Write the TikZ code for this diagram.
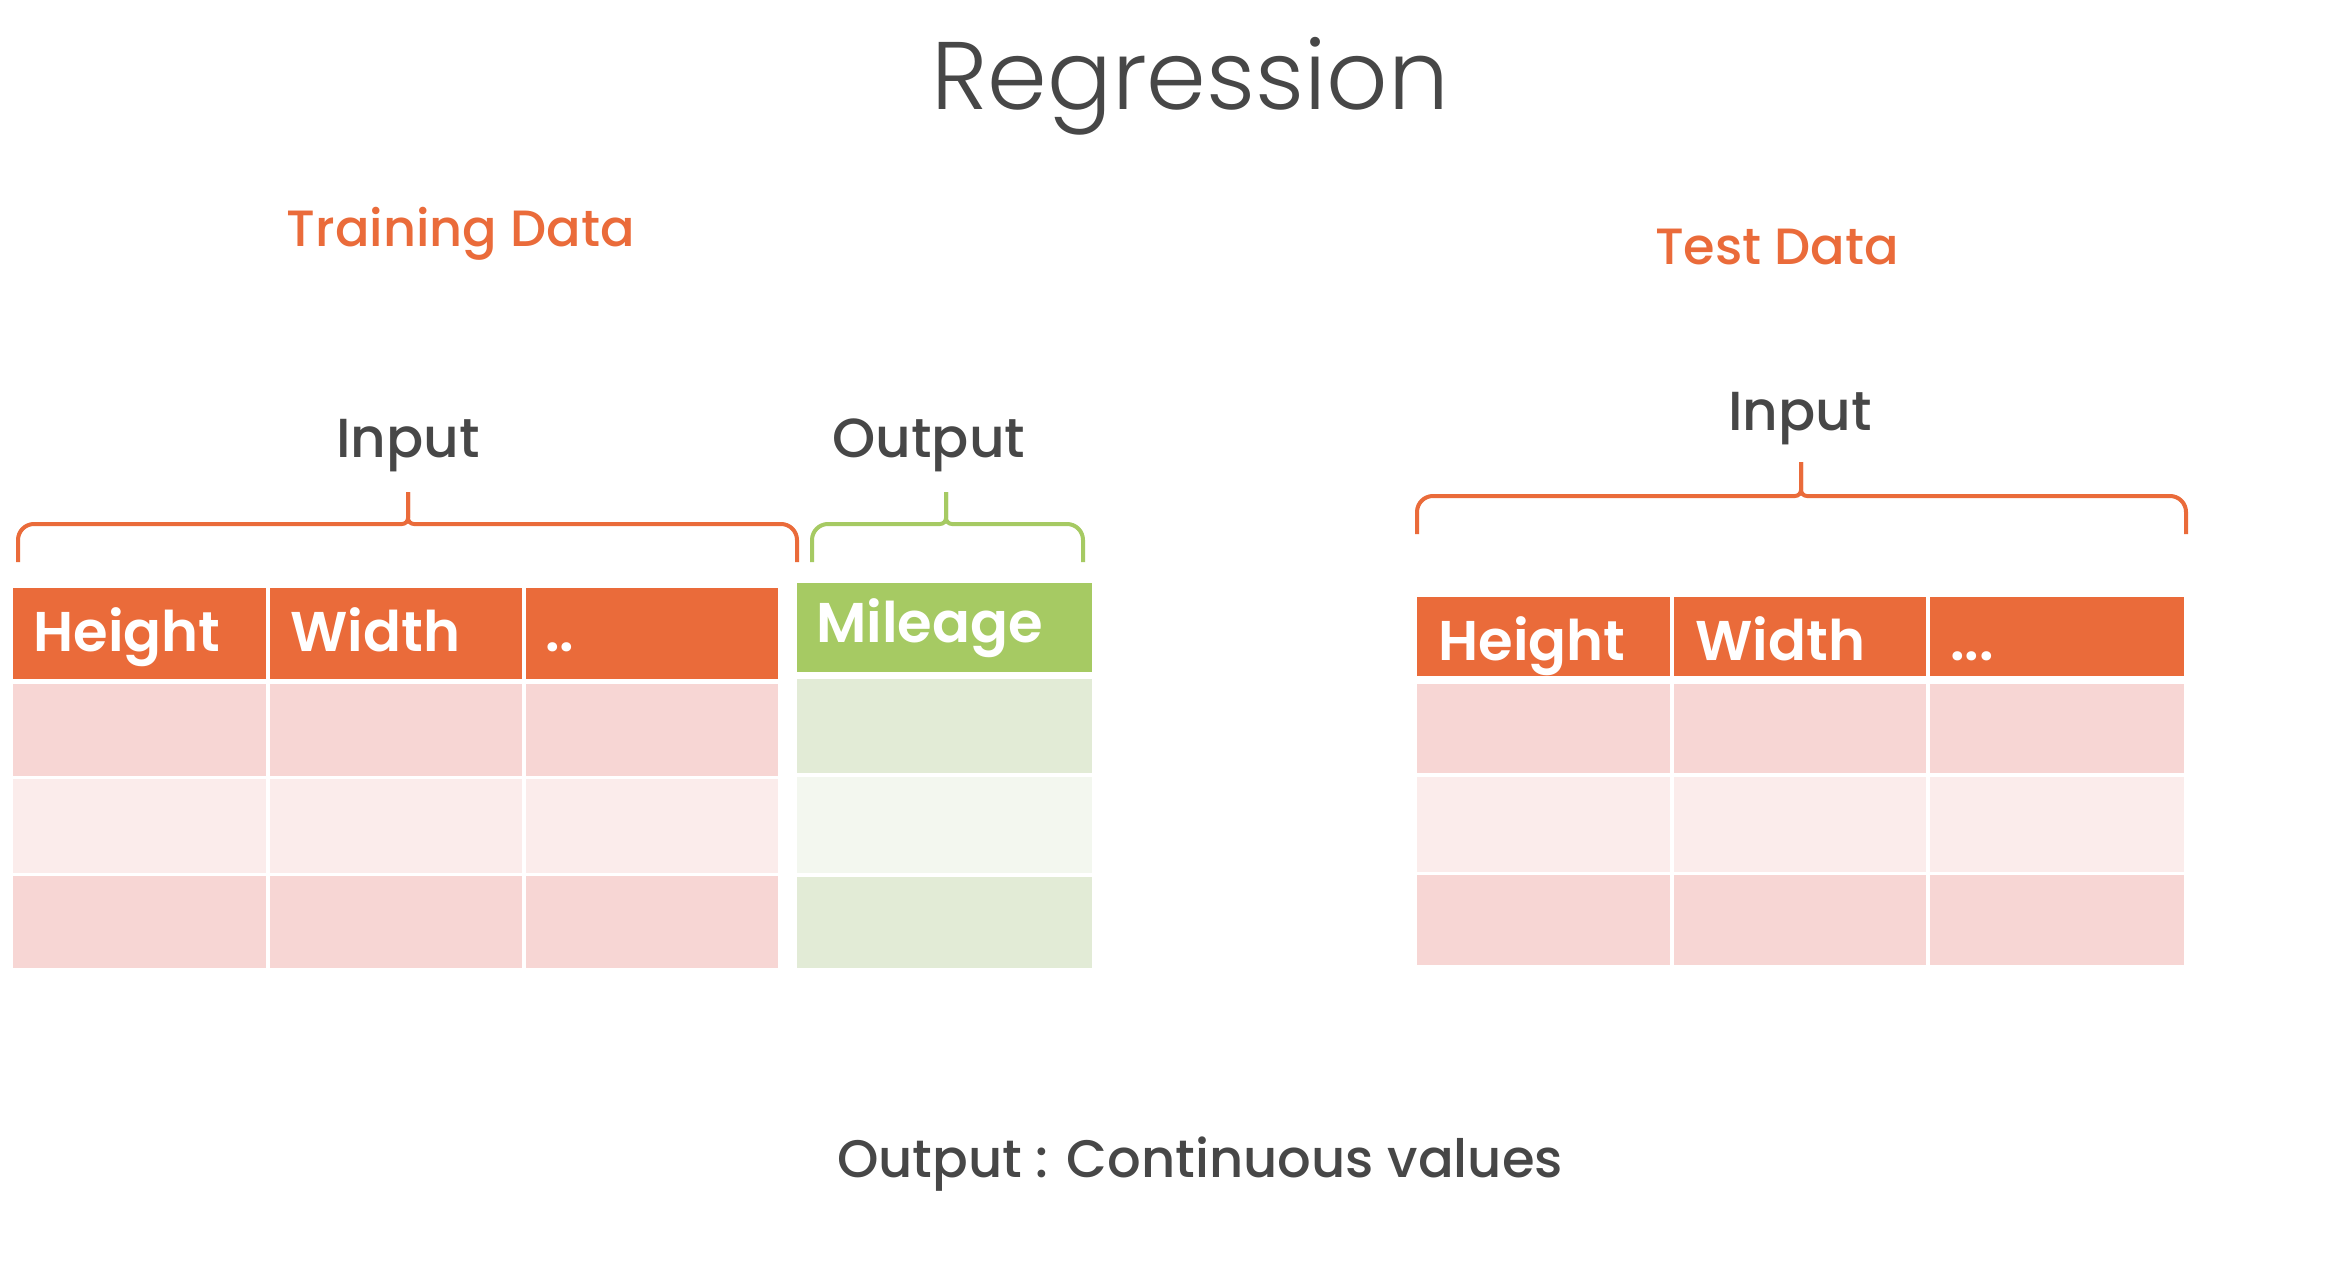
\documentclass[tikz,border=0pt]{standalone}
\usepackage{fontspec}
\setmainfont{Poppins}
\newfontfamily\lightface{Poppins Light}
\newfontfamily\mediumface{Poppins Medium}
\newfontfamily\boldface{Poppins SemiBold}

\definecolor{accent}{HTML}{EA6B3A}
\definecolor{rowA}{HTML}{F7D6D4}
\definecolor{rowB}{HTML}{FBECEB}
\definecolor{leaf}{HTML}{A6CA63}
\definecolor{leafA}{HTML}{E2EBD6}
\definecolor{leafB}{HTML}{F3F7EF}
\definecolor{ink}{HTML}{474747}

\tikzset{
  title/.style={text=ink, font=\lightface\fontsize{48}{52}\selectfont, inner sep=0, anchor=base},
  heading/.style={text=accent, font=\mediumface\fontsize{25.5}{28}\selectfont, inner sep=0, anchor=base},
  label/.style={text=ink, font=\mediumface\fontsize{27.5}{30}\selectfont, inner sep=0, anchor=base},
  footer/.style={label, font=\mediumface\fontsize{26.4}{29}\selectfont},
  colname/.style={text=white, font=\boldface\fontsize{28}{30}\selectfont, inner sep=0, anchor=base west},
  bracestroke/.style={line width=2pt},
}

% brace: colour, left x, right x, tip x, bar y, end y, tip y
\newcommand\BraceAt[7]{%
  \draw[bracestroke,#1,rounded corners=8pt] (#2,#6) -- (#2,#5) [rounded corners=3pt] -- (#4,#5) -- (#4,#7);
  \draw[bracestroke,#1,rounded corners=8pt] (#3,#6) -- (#3,#5) [rounded corners=3pt] -- (#4,#5) -- (#4,#7);
}

\begin{document}
\begin{tikzpicture}[x=0.5pt,y=-0.5pt]
\fill[white] (0,0) rectangle (2336,1268);
\useasboundingbox (0,0) rectangle (2336,1268);

% title
\node[title] (title) at (1190,110) {Regression};

% section headings
\node[heading] (train) at (461,246) {Training Data};
\node[heading] (test) at (1777,264) {Test Data};

% brace labels
\node[label] (inL) at (408,457) {Input};
\node[label] (outL) at (929,457) {Output};
\node[label] (inR) at (1800,430) {Input};

% braces
\BraceAt{accent}{18}{797}{408}{524}{562}{492}
\BraceAt{leaf}{812}{1083}{946}{524}{562}{492}
\BraceAt{accent}{1417}{2186}{1801}{496}{534}{462}

% training inputs
\foreach \xa/\xb in {13/266, 270/522, 526/778} {
  \fill[accent] (\xa,588) rectangle (\xb,679);
  \fill[rowA] (\xa,684) rectangle (\xb,776);
  \fill[rowB] (\xa,779) rectangle (\xb,873);
  \fill[rowA] (\xa,876) rectangle (\xb,968);
}
\node[colname] (trH) at (33,651) {Height};
\node[colname] (trW) at (290,651) {Width};
\node[colname] (trD) at (545,651) {..};

% training output
\fill[leaf] (797,583) rectangle (1092,672);
\fill[leafA] (797,679) rectangle (1092,773);
\fill[leafB] (797,777) rectangle (1092,873);
\fill[leafA] (797,877) rectangle (1092,968);
\node[colname] (trM) at (816,642) {Mileage};

% test inputs
\foreach \xa/\xb in {1417/1670, 1674/1926, 1930/2184} {
  \fill[accent] (\xa,597) rectangle (\xb,676);
  \fill[rowA] (\xa,684) rectangle (\xb,773);
  \fill[rowB] (\xa,777) rectangle (\xb,872);
  \fill[rowA] (\xa,875) rectangle (\xb,965);
}
\node[colname] (teH) at (1438,660) {Height};
\node[colname] (teW) at (1695,660) {Width};
\node[colname] (teD) at (1950,660) {...};

% footer
\node[footer] (foot) at (1200,1177) {Output : Continuous values};
\end{tikzpicture}
\end{document}
